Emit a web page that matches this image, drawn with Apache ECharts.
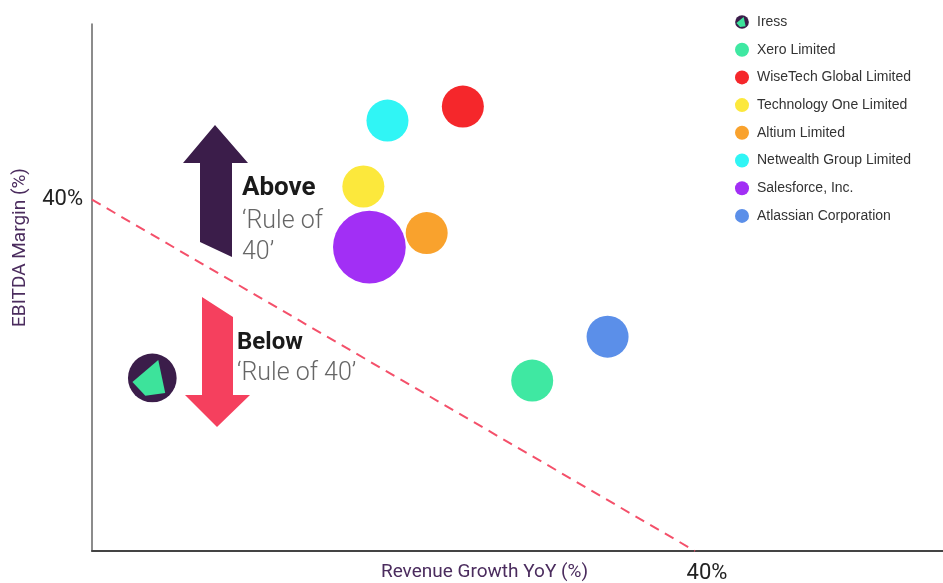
<!DOCTYPE html>
<html>
<head>
<meta charset="utf-8">
<script src="https://cdn.jsdelivr.net/npm/echarts@6/dist/echarts.min.js"></script>
<style>
html,body{margin:0;padding:0;background:#fff;}
#chart{width:943px;height:583px;}
</style>
</head>
<body>
<div id="chart"></div>
<script>
// ---- data ----
const companies = ['Iress','Xero Limited','WiseTech Global Limited','Technology One Limited','Altium Limited','Netwealth Group Limited','Salesforce, Inc.','Atlassian Corporation'];
const revenueGrowth = [4.0, 29.2, 24.6, 18.0, 22.2, 19.6, 18.4, 34.2];   // % YoY
const ebitdaMargin  = [19.7, 19.4, 50.6, 41.5, 36.2, 49.0, 34.6, 24.4]; // %
const bubbleWeight  = [1.4, 1, 1, 1, 1, 1, 3, 1];
const ruleLine = [[0, 40], [40, 0]];
const axisTickValues = [40];

const colors = ['#3b1d4a','#3fe8a2','#f5272b','#fce83c','#f9a22d','#30f5f5','#a22ff5','#5b8fe9'];

const iressSvg = '<svg xmlns="http://www.w3.org/2000/svg" width="50" height="50" viewBox="0 0 50 50">' +
  '<circle cx="25" cy="25" r="24.5" fill="#3b1d4a"/>' +
  '<polygon points="31,7 38,40 18,43 5,29" fill="#3de39b"/></svg>';
const iressSymbol = 'image://data:image/svg+xml;charset=utf-8,' + encodeURIComponent(iressSvg);

const series = companies.map((name, i) => ({
  name: name,
  type: 'scatter',
  symbol: i === 0 ? iressSymbol : 'circle',
  symbolSize: 42 * Math.sqrt(bubbleWeight[i]),
  itemStyle: { color: colors[i], opacity: 1 },
  data: [[revenueGrowth[i], ebitdaMargin[i]]],
  z: 5
}));

series.push({
  name: 'rule',
  type: 'line',
  data: [],
  silent: true,
  markLine: {
    silent: true,
    symbol: ['none','none'],
    label: { show: false },
    lineStyle: { color: '#f4506a', width: 2, type: [10, 7] },
    data: [[{ coord: ruleLine[0] }, { coord: ruleLine[1] }]]
  }
});

const chart = echarts.init(document.getElementById('chart'));
chart.setOption({
  animation: false,
  grid: { left: 92, right: 0, top: 24, bottom: 32, containLabel: false, outerBoundsMode: 'none' },
  legend: {
    orient: 'vertical',
    left: 730,
    top: 10,
    itemWidth: 14,
    itemHeight: 14,
    itemGap: 13.7,
    data: companies.map((n, i) => ({ name: n, icon: i === 0 ? iressSymbol : 'circle' })),
    textStyle: { fontFamily: 'Liberation Sans', fontSize: 14, color: '#333', padding: [0,0,0,3] }
  },
  xAxis: {
    type: 'value', min: 0, max: 56.45,
    name: 'Revenue Growth YoY (%)',
    nameLocation: 'middle', nameGap: 12, nameMoveOverlap: false,
    nameTextStyle: { fontFamily: 'Roboto', fontSize: 19, color: '#4b2c5e', padding: [0, 66, 0, 0] },
    axisLine: { lineStyle: { color: '#444', width: 2 } },
    axisTick: { show: false },
    splitLine: { show: false },
    axisLabel: { customValues: axisTickValues, formatter: '{value}%', fontFamily: 'Roboto', fontSize: 22, color: '#222', margin: 11, padding: [0,0,0,24] }
  },
  yAxis: {
    type: 'value', min: 0, max: 60,
    name: 'EBITDA Margin (%)',
    nameLocation: 'middle', nameGap: 62, nameMoveOverlap: false,
    nameTextStyle: { fontFamily: 'Roboto', fontSize: 19, color: '#4b2c5e', padding: [0, 0, 0, 80] },
    axisLine: { show: true, lineStyle: { color: '#666', width: 1.5 } },
    axisTick: { show: false },
    splitLine: { show: false },
    axisLabel: { customValues: axisTickValues, formatter: '{value}%', fontFamily: 'Roboto', fontSize: 22, color: '#222', margin: 9, padding: [0,0,14,0] }
  },
  graphic: [
    { type: 'polygon', z: 3, shape: { points: [[215,125],[248,163],[232,163],[232,257],[200,242],[200,163],[183,163]] }, style: { fill: '#3b1d4a' } },
    { type: 'polygon', z: 3, shape: { points: [[202,297],[233,317],[233,395],[250,395],[217,427],[185,395],[202,395]] }, style: { fill: '#f5405e' } },
    { type: 'text', z: 4, left: 242, top: 175, style: { text: 'Above', fontFamily: 'Roboto', fontWeight: 'bold', fontSize: 26, fill: '#1a1a1a' } },
    { type: 'text', z: 4, left: 242, top: 206, style: { text: '\u2018Rule of\n40\u2019', fontFamily: 'Roboto', fontWeight: 300, fontSize: 25, lineHeight: 31, fill: '#666' } },
    { type: 'text', z: 4, left: 237, top: 331, style: { text: 'Below', fontFamily: 'Roboto', fontWeight: 'bold', fontSize: 24, fill: '#1a1a1a' } },
    { type: 'text', z: 4, left: 237, top: 361, style: { text: '\u2018Rule of 40\u2019', fontFamily: 'Roboto', fontWeight: 300, fontSize: 25, fill: '#666' } }
  ],
  series: series
});
</script>
</body>
</html>
